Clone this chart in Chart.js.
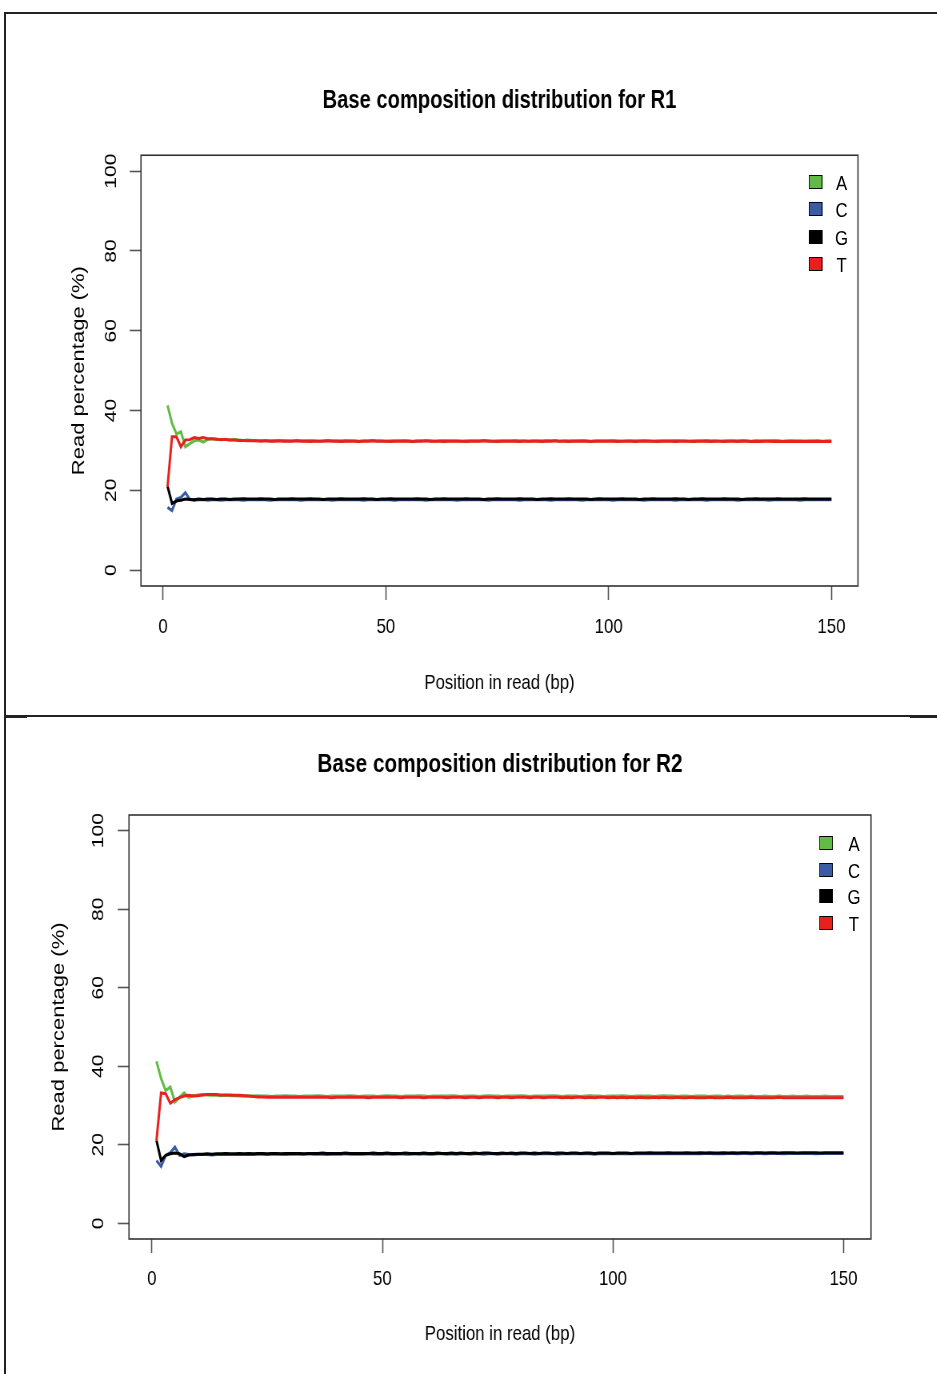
<!DOCTYPE html>
<html>
<head>
<meta charset="utf-8">
<title>Base composition distribution</title>
<script src="https://cdn.jsdelivr.net/npm/chart.js@4.4.1/dist/chart.umd.min.js"></script>
<style>
  html, body { margin: 0; padding: 0; background: #fff; }
  body { width: 937px; height: 1374px; position: relative; overflow: hidden; }
  .rule { position: absolute; background: #222; }
  /* each panel is laid out wide and squeezed horizontally */
  .panel { position: absolute; left: 0; width: 1172px; transform: scaleX(0.8); transform-origin: 0 0; }
  .panel canvas { position: absolute; left: 0; top: 0; }
  .key-swatch { position: absolute; width: 15px; height: 12px; border: 1px solid #000; }
  .key-label { position: absolute; font-family: 'Liberation Sans', Arial, sans-serif;
               font-size: 21px; line-height: 21px; color: #000; transform: translate(-50%, -50%); }
</style>
</head>
<body>
<div class="rule" style="left:5px;top:12px;width:932px;height:2px"></div>
<div class="rule" style="left:4px;top:12px;width:2px;height:1362px"></div>
<div class="rule" style="left:5px;top:715px;width:932px;height:2px"></div>
<div class="rule" style="left:5px;top:715px;width:22px;height:3px"></div>
<div class="rule" style="left:910px;top:715px;width:27px;height:3px"></div>

<div class="panel" id="p1" style="top:14px;height:700px"><canvas id="r1" width="1172" height="700"></canvas></div>
<div class="panel" id="p2" style="top:718px;height:656px"><canvas id="r2" width="1172" height="656"></canvas></div>

<script>
// Read positions along the 150 bp reads
const positions = Array.from({ length: 150 }, (_, i) => i + 1);
const xTicks = [0, 50, 100, 150];
const yTicks = [0, 20, 40, 60, 80, 100];
const bases = ['A', 'C', 'G', 'T'];
const baseColors = ['#62bb47', '#3b5ba5', '#000000', '#e8211f'];
// T and G are painted over A and C
const drawOrder = [3, 2, 1, 0];

// ---- R1 base percentages per position ----
const r1A = [
  41.3, 36.8, 34.1, 34.7, 30.9, 31.7, 32.4, 32.6, 32.1, 32.7,
  32.9, 32.8, 32.7, 32.8, 32.6, 32.7, 32.6, 32.5, 32.6, 32.5,
  32.4, 32.5, 32.5, 32.4, 32.5, 32.4, 32.5, 32.4, 32.4, 32.5,
  32.4, 32.4, 32.5, 32.4, 32.3, 32.4, 32.5, 32.4, 32.4, 32.4,
  32.5, 32.4, 32.4, 32.3, 32.4, 32.4, 32.5, 32.4, 32.4, 32.3,
  32.4, 32.4, 32.4, 32.5, 32.4, 32.3, 32.4, 32.4, 32.4, 32.4,
  32.3, 32.4, 32.5, 32.4, 32.4, 32.4, 32.3, 32.4, 32.4, 32.4,
  32.4, 32.5, 32.4, 32.3, 32.4, 32.4, 32.4, 32.4, 32.5, 32.4,
  32.4, 32.3, 32.4, 32.4, 32.4, 32.5, 32.4, 32.4, 32.3, 32.4,
  32.4, 32.4, 32.4, 32.5, 32.4, 32.3, 32.4, 32.4, 32.4, 32.4,
  32.5, 32.4, 32.3, 32.4, 32.4, 32.4, 32.4, 32.5, 32.4, 32.3,
  32.4, 32.4, 32.4, 32.4, 32.5, 32.4, 32.4, 32.3, 32.4, 32.4,
  32.4, 32.5, 32.4, 32.4, 32.3, 32.4, 32.4, 32.4, 32.4, 32.5,
  32.4, 32.3, 32.4, 32.4, 32.4, 32.4, 32.5, 32.4, 32.3, 32.4,
  32.4, 32.4, 32.4, 32.3, 32.4, 32.4, 32.4, 32.3, 32.4, 32.4
];
const r1C = [
  15.7, 14.9, 17.8, 18.2, 19.4, 17.7, 17.5, 17.6, 17.7, 17.5,
  17.6, 17.6, 17.5, 17.6, 17.7, 17.6, 17.6, 17.5, 17.6, 17.6,
  17.7, 17.6, 17.6, 17.5, 17.6, 17.6, 17.7, 17.6, 17.6, 17.6,
  17.5, 17.6, 17.6, 17.7, 17.6, 17.6, 17.6, 17.5, 17.6, 17.7,
  17.6, 17.6, 17.6, 17.6, 17.5, 17.6, 17.7, 17.6, 17.6, 17.6,
  17.6, 17.5, 17.6, 17.6, 17.7, 17.6, 17.6, 17.6, 17.5, 17.6,
  17.7, 17.6, 17.6, 17.6, 17.6, 17.5, 17.6, 17.7, 17.6, 17.6,
  17.6, 17.6, 17.5, 17.6, 17.6, 17.7, 17.6, 17.6, 17.6, 17.5,
  17.6, 17.7, 17.6, 17.6, 17.6, 17.6, 17.5, 17.6, 17.7, 17.6,
  17.6, 17.6, 17.6, 17.5, 17.6, 17.6, 17.7, 17.6, 17.6, 17.6,
  17.5, 17.6, 17.7, 17.6, 17.6, 17.6, 17.6, 17.5, 17.6, 17.7,
  17.6, 17.6, 17.6, 17.6, 17.5, 17.6, 17.7, 17.6, 17.6, 17.6,
  17.6, 17.5, 17.6, 17.7, 17.6, 17.6, 17.6, 17.6, 17.5, 17.6,
  17.7, 17.6, 17.6, 17.6, 17.6, 17.5, 17.6, 17.7, 17.6, 17.6,
  17.6, 17.6, 17.5, 17.6, 17.7, 17.6, 17.6, 17.6, 17.6, 17.6
];
const r1G = [
  21.0, 16.7, 17.3, 17.5, 17.8, 17.7, 17.6, 17.8, 17.7, 17.8,
  17.8, 17.7, 17.8, 17.8, 17.7, 17.8, 17.8, 17.9, 17.8, 17.8,
  17.8, 17.9, 17.8, 17.8, 17.7, 17.8, 17.8, 17.8, 17.9, 17.8,
  17.8, 17.8, 17.9, 17.8, 17.8, 17.7, 17.8, 17.8, 17.8, 17.9,
  17.8, 17.8, 17.8, 17.8, 17.9, 17.8, 17.8, 17.7, 17.8, 17.8,
  17.9, 17.8, 17.8, 17.8, 17.8, 17.8, 17.9, 17.8, 17.8, 17.7,
  17.8, 17.8, 17.9, 17.8, 17.8, 17.8, 17.8, 17.9, 17.8, 17.8,
  17.8, 17.7, 17.8, 17.8, 17.9, 17.8, 17.8, 17.8, 17.8, 17.9,
  17.8, 17.8, 17.8, 17.7, 17.8, 17.8, 17.9, 17.8, 17.8, 17.8,
  17.9, 17.8, 17.8, 17.8, 17.8, 17.7, 17.8, 17.9, 17.8, 17.8,
  17.8, 17.8, 17.9, 17.8, 17.8, 17.8, 17.7, 17.8, 17.8, 17.9,
  17.8, 17.8, 17.8, 17.8, 17.9, 17.8, 17.8, 17.7, 17.8, 17.8,
  17.9, 17.8, 17.8, 17.8, 17.8, 17.9, 17.8, 17.8, 17.8, 17.7,
  17.8, 17.8, 17.9, 17.8, 17.8, 17.8, 17.8, 17.9, 17.8, 17.8,
  17.8, 17.8, 17.8, 17.9, 17.8, 17.8, 17.8, 17.8, 17.8, 17.8
];
const r1T = [
  20.9, 33.4, 33.4, 30.9, 32.6, 32.7, 33.2, 33.0, 33.2, 32.9,
  32.9, 32.8, 32.7, 32.7, 32.6, 32.6, 32.5, 32.5, 32.4, 32.4,
  32.4, 32.3, 32.4, 32.3, 32.3, 32.4, 32.3, 32.3, 32.3, 32.4,
  32.3, 32.3, 32.2, 32.3, 32.3, 32.3, 32.4, 32.3, 32.3, 32.2,
  32.3, 32.3, 32.3, 32.2, 32.3, 32.3, 32.4, 32.3, 32.3, 32.3,
  32.2, 32.3, 32.3, 32.3, 32.3, 32.2, 32.3, 32.3, 32.4, 32.3,
  32.3, 32.3, 32.2, 32.3, 32.3, 32.3, 32.3, 32.2, 32.3, 32.3,
  32.3, 32.4, 32.3, 32.3, 32.2, 32.3, 32.3, 32.3, 32.3, 32.2,
  32.3, 32.3, 32.3, 32.3, 32.2, 32.3, 32.3, 32.4, 32.3, 32.3,
  32.2, 32.3, 32.3, 32.3, 32.3, 32.2, 32.3, 32.3, 32.3, 32.3,
  32.3, 32.2, 32.3, 32.3, 32.3, 32.2, 32.3, 32.3, 32.3, 32.3,
  32.2, 32.3, 32.3, 32.3, 32.2, 32.3, 32.3, 32.3, 32.2, 32.3,
  32.3, 32.3, 32.2, 32.3, 32.3, 32.2, 32.3, 32.3, 32.2, 32.3,
  32.3, 32.2, 32.3, 32.2, 32.3, 32.3, 32.2, 32.3, 32.2, 32.2,
  32.3, 32.2, 32.2, 32.3, 32.2, 32.2, 32.3, 32.2, 32.2, 32.2
];

// ---- R2 base percentages per position ----
const r2A = [
  41.3, 36.9, 33.8, 34.7, 30.9, 32.1, 33.2, 32.1, 32.5, 32.7,
  32.8, 32.7, 32.6, 32.6, 32.5, 32.6, 32.5, 32.5, 32.4, 32.5,
  32.4, 32.4, 32.5, 32.4, 32.4, 32.3, 32.4, 32.4, 32.5, 32.4,
  32.4, 32.3, 32.4, 32.4, 32.4, 32.5, 32.4, 32.3, 32.4, 32.4,
  32.4, 32.4, 32.5, 32.4, 32.3, 32.4, 32.4, 32.4, 32.3, 32.4,
  32.5, 32.4, 32.4, 32.3, 32.4, 32.4, 32.4, 32.5, 32.4, 32.3,
  32.4, 32.4, 32.4, 32.4, 32.5, 32.4, 32.3, 32.4, 32.4, 32.4,
  32.3, 32.4, 32.5, 32.4, 32.4, 32.3, 32.4, 32.4, 32.4, 32.5,
  32.4, 32.3, 32.4, 32.4, 32.4, 32.4, 32.5, 32.4, 32.3, 32.4,
  32.4, 32.4, 32.3, 32.4, 32.5, 32.4, 32.4, 32.3, 32.4, 32.4,
  32.4, 32.5, 32.4, 32.3, 32.4, 32.4, 32.4, 32.4, 32.3, 32.4,
  32.5, 32.4, 32.4, 32.3, 32.4, 32.4, 32.3, 32.4, 32.4, 32.4,
  32.3, 32.4, 32.4, 32.3, 32.4, 32.3, 32.4, 32.4, 32.3, 32.4,
  32.3, 32.3, 32.4, 32.3, 32.3, 32.4, 32.3, 32.3, 32.4, 32.3,
  32.3, 32.4, 32.3, 32.3, 32.3, 32.4, 32.3, 32.3, 32.3, 32.3
];
const r2C = [
  16.0, 14.5, 17.3, 18.0, 19.4, 17.3, 17.7, 17.5, 17.4, 17.5,
  17.5, 17.5, 17.4, 17.5, 17.5, 17.6, 17.5, 17.5, 17.6, 17.5,
  17.6, 17.5, 17.6, 17.6, 17.5, 17.6, 17.6, 17.6, 17.5, 17.6,
  17.6, 17.6, 17.6, 17.7, 17.6, 17.6, 17.6, 17.5, 17.6, 17.6,
  17.6, 17.7, 17.6, 17.6, 17.6, 17.6, 17.7, 17.6, 17.6, 17.6,
  17.7, 17.6, 17.6, 17.7, 17.6, 17.6, 17.7, 17.6, 17.7, 17.6,
  17.6, 17.7, 17.7, 17.6, 17.7, 17.6, 17.7, 17.7, 17.6, 17.7,
  17.7, 17.6, 17.7, 17.7, 17.6, 17.7, 17.7, 17.7, 17.6, 17.7,
  17.7, 17.7, 17.6, 17.7, 17.7, 17.7, 17.7, 17.6, 17.7, 17.7,
  17.7, 17.8, 17.7, 17.7, 17.7, 17.6, 17.7, 17.7, 17.8, 17.7,
  17.7, 17.7, 17.8, 17.7, 17.7, 17.7, 17.8, 17.7, 17.7, 17.8,
  17.7, 17.8, 17.7, 17.7, 17.8, 17.7, 17.7, 17.8, 17.7, 17.8,
  17.8, 17.7, 17.8, 17.7, 17.8, 17.8, 17.7, 17.8, 17.8, 17.7,
  17.8, 17.8, 17.7, 17.8, 17.8, 17.8, 17.7, 17.8, 17.8, 17.8,
  17.8, 17.8, 17.8, 17.7, 17.8, 17.8, 17.8, 17.8, 17.8, 17.8
];
const r2G = [
  21.1, 16.0, 17.3, 17.7, 17.9, 17.7, 17.0, 17.4, 17.5, 17.6,
  17.6, 17.7, 17.6, 17.7, 17.7, 17.8, 17.7, 17.7, 17.8, 17.7,
  17.8, 17.7, 17.8, 17.8, 17.7, 17.8, 17.8, 17.7, 17.8, 17.8,
  17.8, 17.8, 17.7, 17.8, 17.8, 17.8, 17.9, 17.8, 17.8, 17.8,
  17.8, 17.9, 17.8, 17.8, 17.8, 17.8, 17.8, 17.9, 17.8, 17.8,
  17.9, 17.8, 17.8, 17.8, 17.9, 17.8, 17.8, 17.8, 17.9, 17.8,
  17.8, 17.9, 17.8, 17.8, 17.9, 17.8, 17.9, 17.8, 17.8, 17.9,
  17.8, 17.9, 17.9, 17.8, 17.8, 17.9, 17.8, 17.9, 17.8, 17.9,
  17.9, 17.8, 17.9, 17.8, 17.9, 17.9, 17.8, 17.9, 17.9, 17.8,
  17.9, 17.9, 17.8, 17.9, 17.9, 17.8, 17.9, 17.9, 17.9, 17.8,
  17.9, 17.9, 17.9, 17.8, 17.9, 17.9, 17.9, 18.0, 17.9, 17.9,
  17.9, 18.0, 17.9, 17.9, 17.9, 18.0, 17.9, 17.9, 18.0, 17.9,
  18.0, 17.9, 17.9, 18.0, 17.9, 18.0, 17.9, 18.0, 18.0, 17.9,
  18.0, 18.0, 17.9, 18.0, 18.0, 17.9, 18.0, 18.0, 18.0, 17.9,
  18.0, 18.0, 18.0, 18.0, 17.9, 18.0, 18.0, 18.0, 18.0, 18.0
];
const r2T = [
  21.1, 33.2, 33.0, 30.6, 31.5, 32.0, 32.4, 32.6, 32.4, 32.5,
  32.7, 32.8, 32.8, 32.8, 32.7, 32.7, 32.7, 32.6, 32.6, 32.5,
  32.4, 32.3, 32.2, 32.2, 32.1, 32.2, 32.1, 32.1, 32.2, 32.1,
  32.1, 32.2, 32.1, 32.1, 32.1, 32.2, 32.1, 32.1, 32.0, 32.1,
  32.1, 32.1, 32.2, 32.1, 32.1, 32.1, 32.0, 32.1, 32.1, 32.1,
  32.2, 32.1, 32.1, 32.0, 32.1, 32.1, 32.1, 32.1, 32.0, 32.1,
  32.1, 32.1, 32.1, 32.0, 32.1, 32.1, 32.1, 32.0, 32.1, 32.1,
  32.0, 32.1, 32.1, 32.1, 32.0, 32.1, 32.1, 32.0, 32.1, 32.1,
  32.1, 32.0, 32.1, 32.1, 32.0, 32.1, 32.1, 32.1, 32.0, 32.1,
  32.0, 32.1, 32.1, 32.0, 32.1, 32.0, 32.1, 32.1, 32.0, 32.1,
  32.0, 32.1, 32.0, 32.1, 32.0, 32.1, 32.0, 32.0, 32.1, 32.0,
  32.1, 32.0, 32.0, 32.1, 32.0, 32.0, 32.1, 32.0, 32.0, 32.0,
  32.1, 32.0, 32.0, 32.0, 32.1, 32.0, 32.0, 32.0, 32.0, 32.1,
  32.0, 32.0, 32.0, 32.0, 32.0, 32.1, 32.0, 32.0, 32.0, 32.0,
  32.0, 32.0, 32.0, 32.0, 32.0, 32.0, 32.0, 32.0, 32.0, 32.0
];

const HELV = "'Liberation Sans', Arial, Helvetica, sans-serif";
const TEXT_SIZE = 21;

// Rectangle around the plotting region
const plotBox = {
  id: 'plotBox',
  afterDatasetsDraw(chart, args, opts) {
    const { ctx, chartArea: a } = chart;
    ctx.save();
    ctx.strokeStyle = opts.color;
    ctx.lineWidth = opts.width;
    ctx.strokeRect(a.left, a.top, a.right - a.left, a.bottom - a.top);
    ctx.restore();
  }
};

// Axis ranges padded by 4% on each side
const xSpan = positions[positions.length - 1] - positions[0];
const xMin = positions[0] - 0.04 * xSpan;
const xMax = positions[positions.length - 1] + 0.04 * xSpan;
const ySpan = yTicks[yTicks.length - 1] - yTicks[0];
const yMin = yTicks[0] - 0.04 * ySpan;
const yMax = yTicks[yTicks.length - 1] + 0.04 * ySpan;

function widthOf(text, font) {
  const c = document.createElement('canvas').getContext('2d');
  c.font = font;
  return c.measureText(text).width;
}

function drawPanel(panelId, canvasId, title, series, L) {
  const panel = document.getElementById(panelId);
  const canvas = document.getElementById(canvasId);
  const widest = widthOf('100', TEXT_SIZE + 'px ' + HELV);
  const chart = new Chart(canvas, {
    type: 'line',
    data: {
      labels: positions,
      datasets: bases.map((b, i) => ({
        label: b,
        data: series[i],
        borderColor: baseColors[i],
        backgroundColor: baseColors[i],
        borderWidth: 3,
        pointRadius: 0,
        tension: 0,
        fill: false,
        order: drawOrder[i]
      }))
    },
    options: {
      responsive: false,
      animation: false,
      events: [],
      layout: { padding: { left: 0, right: L.padRight, top: 0, bottom: 0 } },
      plugins: {
        legend: { display: false },
        tooltip: { enabled: false },
        title: {
          display: true,
          fullSize: false,
          text: title,
          color: '#000',
          font: { family: HELV, size: L.titleSize, weight: 'bold', lineHeight: 1.2 },
          padding: { top: L.titleTop, bottom: L.titleBottom }
        },
        plotBox: { color: '#333', width: 1.6 }
      },
      scales: {
        x: {
          type: 'linear',
          min: xMin,
          max: xMax,
          afterBuildTicks: s => { s.ticks = xTicks.map(v => ({ value: v })); },
          afterFit: s => { s.height = L.xAxisHeight; },
          grid: { drawOnChartArea: false, drawTicks: true, tickLength: 14, tickWidth: 1.6, tickColor: '#555' },
          border: { display: false },
          ticks: { autoSkip: false, maxRotation: 0, padding: L.xTickPad, color: '#000',
                   font: { family: HELV, size: TEXT_SIZE, lineHeight: 1.2 } },
          title: { display: true, text: 'Position in read (bp)', color: '#000',
                   font: { family: HELV, size: TEXT_SIZE, lineHeight: 1.2 }, padding: { top: 0, bottom: L.xTitlePad } }
        },
        y: {
          type: 'linear',
          min: yMin,
          max: yMax,
          afterBuildTicks: s => { s.ticks = yTicks.map(v => ({ value: v })); },
          afterFit: s => { s.width = L.yAxisWidth; },
          grid: { drawOnChartArea: false, drawTicks: true, tickLength: 14, tickWidth: 1.6, tickColor: '#555' },
          border: { display: false },
          ticks: { autoSkip: false, minRotation: 90, maxRotation: 90, crossAlign: 'center',
                   padding: L.yTickGap - widest / 2, color: '#000',
                   font: { family: HELV, size: TEXT_SIZE, lineHeight: 1.2 } },
          title: { display: true, text: 'Read percentage (%)', color: '#000',
                   font: { family: HELV, size: 22, lineHeight: 1.2 }, padding: { top: L.yTitlePad, bottom: 0 } }
        }
      }
    },
    plugins: [plotBox]
  });

  // Key in the top-right corner of the plotting region
  const a = chart.chartArea;
  bases.forEach((b, i) => {
    const cy = a.top + L.keyFirst + i * L.keyStep;
    const sw = document.createElement('div');
    sw.className = 'key-swatch';
    sw.style.background = baseColors[i];
    sw.style.left = (a.right - L.keySwatch - 8.5) + 'px';
    sw.style.top = (cy - 7) + 'px';
    panel.appendChild(sw);
    const lb = document.createElement('div');
    lb.className = 'key-label';
    lb.textContent = b;
    lb.style.left = (a.right - L.keyText) + 'px';
    lb.style.top = cy + 'px';
    panel.appendChild(lb);
  });
  return chart;
}

drawPanel('p1', 'r1', 'Base composition distribution for R1', [r1A, r1C, r1G, r1T], {
  padRight: 99.5, titleSize: 25.2, titleTop: 72, titleBottom: 39,
  xAxisHeight: 128, xTickPad: 14.4, xTitlePad: 18,
  yAxisWidth: 176.25, yTickGap: 23.5, yTitlePad: 85.5,
  keyFirst: 27, keyStep: 27.2, keySwatch: 53, keyText: 20.6
});

drawPanel('p2', 'r2', 'Base composition distribution for R2', [r2A, r2C, r2G, r2T], {
  padRight: 83.25, titleSize: 26, titleTop: 31.4, titleBottom: 34.4,
  xAxisHeight: 135, xTickPad: 13.4, xTitlePad: 27,
  yAxisWidth: 161.25, yTickGap: 24.1, yTitlePad: 60.5,
  keyFirst: 28, keyStep: 26.7, keySwatch: 56, keyText: 21.25
});
</script>
</body>
</html>
